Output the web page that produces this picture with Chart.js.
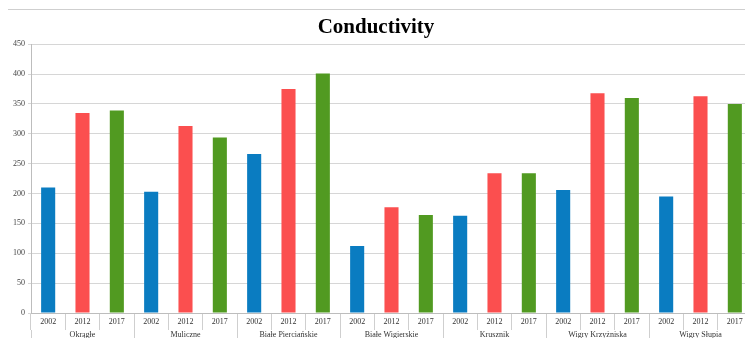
<!DOCTYPE html>
<html lang="en">
<head>
<meta charset="UTF-8">
<title>Conductivity</title>
<style>
  html, body { margin: 0; padding: 0; background: #fff; }
  body { width: 745px; height: 338px; overflow: hidden; position: relative; }
  .rule { position: absolute; left: 8px; top: 9px; width: 745px; border-top: 1px solid #cfcfcf; }
  .wrap { position: absolute; left: 0; top: 0; width: 755px; height: 346px; }
</style>
</head>
<body>
<div class="rule"></div>
<div class="wrap"><canvas id="chart"></canvas></div>
<script src="https://cdn.jsdelivr.net/npm/chart.js@4/dist/chart.umd.min.js"></script>
<script>
// data
const lakes = ['Okrągłe', 'Muliczne', 'Białe Pierciańskie', 'Białe Wigierskie', 'Krusznik', 'Wigry Krzyżniska', 'Wigry Słupia'];
const years = ['2002', '2012', '2017'];
const values2002 = [210, 203, 266, 112, 163, 206, 195];
const values2012 = [335, 313, 375, 177, 234, 368, 363];
const values2017 = [339, 294, 401, 164, 234, 360, 350];
const yearColors = ['#0a7cc1', '#fb4f4f', '#519a21'];

// one bar per lake/year slot
const series = [values2002, values2012, values2017];
const labels = [], values = [], colors = [];
lakes.forEach((lake, i) => {
    years.forEach((yr, j) => {
        labels.push(yr);
        values.push(series[j][i]);
        colors.push(yearColors[j]);
    });
});

const serif = '"Liberation Serif", "DejaVu Serif", serif';

new Chart(document.getElementById('chart'), {
    type: 'bar',
    data: {
        labels: labels,
        datasets: [{
            data: values,
            backgroundColor: colors,
            barPercentage: 0.41,
            categoryPercentage: 1
        }]
    },
    options: {
        responsive: true,
        maintainAspectRatio: false,
        animation: false,
        layout: { padding: { left: 0, right: 3, top: 0, bottom: 0 } },
        plugins: {
            legend: { display: false },
            tooltip: { enabled: false },
            title: {
                display: true,
                text: 'Conductivity',
                color: '#000',
                font: { family: serif, size: 21, weight: 'bold' },
                padding: { top: 15, bottom: 4 }
            }
        },
        scales: {
            x: {
                position: 'bottom',
                grid: { offset: true, drawOnChartArea: false, drawTicks: true, tickLength: 17, color: '#cfcfcf' },
                border: { color: '#bdbdbd' },
                ticks: { color: '#333', font: { family: serif, size: 8 }, padding: -13, maxRotation: 0, autoSkip: false },
                afterFit: s => { s.height = 17; }
            },
            x2: {
                type: 'category',
                position: 'bottom',
                labels: lakes,
                offset: true,
                grid: { offset: true, drawOnChartArea: false, drawTicks: true, tickLength: 12, color: '#cfcfcf' },
                border: { display: false },
                ticks: { color: '#333', font: { family: serif, size: 8 }, padding: -12, maxRotation: 0, autoSkip: false },
                afterFit: s => { s.height = 16; }
            },
            y: {
                min: 0,
                max: 450,
                ticks: { stepSize: 50, color: '#444', font: { family: serif, size: 8 }, padding: 3 },
                grid: { color: '#d6d6d6', tickLength: 3 },
                border: { color: '#bdbdbd' },
                afterFit: s => { s.width = 31; }
            }
        }
    }
});
</script>
</body>
</html>
